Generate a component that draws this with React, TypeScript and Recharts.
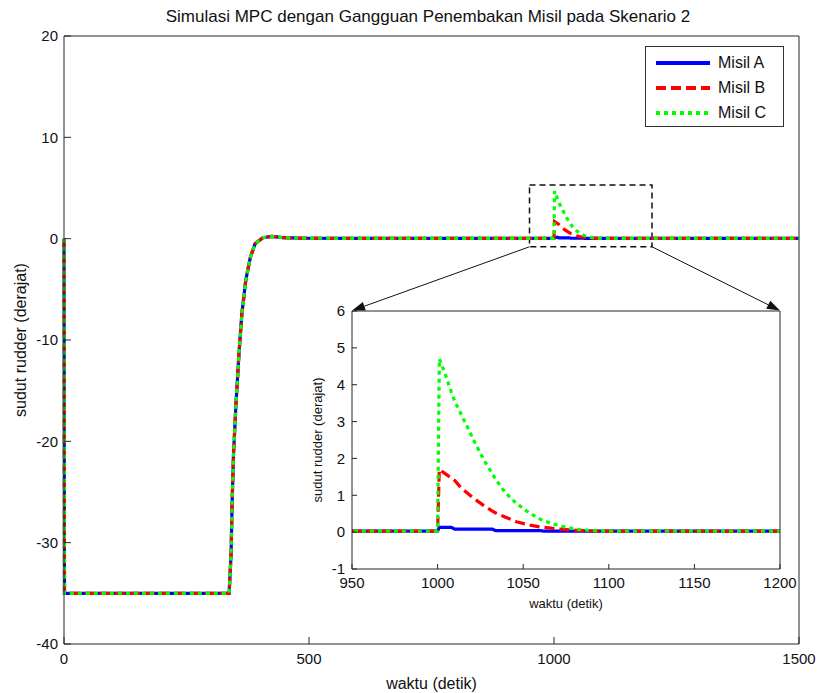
import React from 'react';
import { LineChart, Line, XAxis, YAxis, ReferenceArea, ReferenceLine, Legend } from 'recharts';

// time (detik) shared by all three series
const rise = [0, 1, 100, 200, 300, 337, 341, 343, 346, 351, 357, 363, 371, 380, 390, 406, 424, 447, 480, 600, 800, 999];
const riseVal = [0, -35, -35, -35, -35, -35, -31.1, -26.2, -21.2, -16.3, -11.4, -7.4, -4.1, -1.9, -0.5, 0.1, 0.23, 0.1, 0.05, 0.03, 0.03, 0.03];
const hit = [1000, 1001, 1004, 1008, 1010, 1014, 1021, 1027, 1032, 1034, 1039, 1046, 1054, 1060, 1062, 1071, 1081, 1090, 1100, 1110, 1200, 1300, 1400, 1500];
const hitA = [0.03, 0.13, 0.13, 0.13, 0.08, 0.08, 0.08, 0.08, 0.08, 0.04, 0.04, 0.04, 0.04, 0.04, 0.03, 0.03, 0.03, 0.03, 0.03, 0.03, 0.03, 0.03, 0.03, 0.03];
const hitB = [0.03, 1.7, 1.6, 1.47, 1.4, 1.19, 0.92, 0.72, 0.57, 0.52, 0.42, 0.28, 0.19, 0.14, 0.13, 0.08, 0.05, 0.03, 0.03, 0.03, 0.03, 0.03, 0.03, 0.03];
const hitC = [0.03, 4.7, 4.35, 3.8, 3.55, 3.18, 2.5, 1.96, 1.58, 1.43, 1.1, 0.78, 0.51, 0.35, 0.31, 0.17, 0.08, 0.04, 0.03, 0.03, 0.03, 0.03, 0.03, 0.03];

const waktu = [...rise, ...hit];
const misilA = [...riseVal, ...hitA];
const misilB = [...riseVal, ...hitB];
const misilC = [...riseVal, ...hitC];

const xTicks = [0, 500, 1000, 1500];
const yTicks = [-40, -30, -20, -10, 0, 10, 20];
const xTicksZoom = [950, 1000, 1050, 1100, 1150, 1200];
const yTicksZoom = [-1, 0, 1, 2, 3, 4, 5, 6];

const names = ['Misil A', 'Misil B', 'Misil C'];
const colors = ['#0000ff', '#ff0000', '#00ff00'];
const dashes = [undefined, '10 5', '4 4'];
const keys = ['a', 'b', 'c'];

const data = waktu.map((t, i) => ({ t, a: misilA[i], b: misilB[i], c: misilC[i] }));

const font = '"Liberation Sans", Arial, sans-serif';
const ink = '#262626';

const XTitle = (text: string, dy: number, size: number) => (p: any) => {
  const vb = p.viewBox;
  return (
    <text x={vb.x + vb.width / 2} y={vb.y + dy} textAnchor="middle" dominantBaseline="central" fontSize={size} fontFamily={font} fill="#111">
      {text}
    </text>
  );
};

const YTitle = (text: string, dx: number, size: number) => (p: any) => {
  const vb = p.viewBox;
  const x = vb.x + dx;
  const y = vb.y + vb.height / 2;
  return (
    <text x={x} y={y} transform={`rotate(-90 ${x} ${y})`} textAnchor="middle" dominantBaseline="central" fontSize={size} fontFamily={font} fill="#111">
      {text}
    </text>
  );
};

const Arrow = (p: any) => {
  const { x1, y1, x2, y2 } = p;
  const a = Math.atan2(y2 - y1, x2 - x1);
  const len = 13;
  const w = 4.5;
  const bx = x2 - len * Math.cos(a);
  const by = y2 - len * Math.sin(a);
  const pts = `${x2},${y2} ${bx + w * Math.sin(a)},${by - w * Math.cos(a)} ${bx - w * Math.sin(a)},${by + w * Math.cos(a)}`;
  return (
    <g>
      <line x1={x1} y1={y1} x2={bx} y2={by} stroke="#111" strokeWidth={1} />
      <polygon points={pts} fill="#111" />
    </g>
  );
};

const LegendBox = () => (
  <div style={{ width: 139, height: 81, border: '1px solid #333', background: '#fff', boxSizing: 'border-box', position: 'relative', fontFamily: font }}>
    {names.map((n, i) => (
      <div key={n} style={{ position: 'absolute', left: 10, top: 7 + i * 25, height: 18, display: 'flex', alignItems: 'center' }}>
        <svg width={54} height={6}>
          <line x1={0} y1={3} x2={54} y2={3} stroke={colors[i]} strokeWidth={4} strokeDasharray={dashes[i]} />
        </svg>
        <span style={{ marginLeft: 8, fontSize: 16, color: '#111' }}>{n}</span>
      </div>
    ))}
  </div>
);

const series = (w: number) =>
  keys.map((k, i) => (
    <Line
      key={k}
      xAxisId="b"
      yAxisId="l"
      dataKey={k}
      type="linear"
      stroke={colors[i]}
      strokeWidth={w}
      strokeDasharray={dashes[i]}
      dot={false}
      isAnimationActive={false}
    />
  ));

export default function App() {
  const tickStyle = { fill: '#111', fontSize: 15, fontFamily: font };
  return (
    <div style={{ position: 'absolute', left: 0, top: 0, width: 818, height: 693, background: '#fff' }}>
      <div style={{ position: 'absolute', left: 78, top: 7, width: 700, textAlign: 'center', fontSize: 17, fontFamily: font, color: '#111' }}>
        Simulasi MPC dengan Gangguan Penembakan Misil pada Skenario 2
      </div>
      <LineChart width={818} height={693} data={data} margin={{ top: 35, right: 18, bottom: 0, left: 0 }}>
        <XAxis xAxisId="b" dataKey="t" type="number" domain={[0, 1500]} ticks={xTicks} height={49} tickSize={-7} tickMargin={16} stroke={ink} tick={tickStyle} label={XTitle('waktu (detik)', 39, 16)} />
        <XAxis xAxisId="t" orientation="top" dataKey="t" type="number" domain={[0, 1500]} ticks={xTicks} height={1} tickSize={-7} tick={false} stroke={ink} />
        <YAxis yAxisId="l" type="number" domain={[-40, 20]} ticks={yTicks} width={64} tickSize={-7} tickMargin={13} stroke={ink} tick={tickStyle} label={YTitle('sudut rudder (derajat)', 20, 16)} />
        <YAxis yAxisId="r" orientation="right" type="number" domain={[-40, 20]} ticks={yTicks} width={1} tickSize={-7} tick={false} stroke={ink} />
        {series(3.2)}
        <ReferenceArea xAxisId="b" yAxisId="l" x1={950} x2={1200} y1={-0.8} y2={5.3} fill="none" stroke="#111" strokeWidth={1.5} strokeDasharray="6 4" ifOverflow="visible" />
        <ReferenceLine xAxisId="b" yAxisId="l" segment={[{ x: 950, y: -0.8 }, { x: 588, y: -7.1 }]} shape={Arrow} ifOverflow="visible" />
        <ReferenceLine xAxisId="b" yAxisId="l" segment={[{ x: 1200, y: -0.8 }, { x: 1461, y: -7.1 }]} shape={Arrow} ifOverflow="visible" />
        <Legend layout="vertical" align="center" verticalAlign="middle" content={LegendBox} wrapperStyle={{ position: 'absolute', left: 645, top: 46, width: 139, height: 81 }} />
      </LineChart>
      <div style={{ position: 'absolute', left: 300, top: 300 }}>
        <LineChart width={515} height={320} data={data} margin={{ top: 10, right: 34, bottom: 0, left: 0 }}>
          <XAxis xAxisId="b" dataKey="t" type="number" domain={[950, 1200]} allowDataOverflow ticks={xTicksZoom} height={51} tickSize={-5} tickMargin={13} stroke={ink} tick={tickStyle} label={XTitle('waktu (detik)', 34, 13)} />
          <XAxis xAxisId="t" orientation="top" dataKey="t" type="number" domain={[950, 1200]} allowDataOverflow ticks={xTicksZoom} height={1} tickSize={-5} tick={false} stroke={ink} />
          <YAxis yAxisId="l" type="number" domain={[-1, 6]} allowDataOverflow ticks={yTicksZoom} width={52} tickSize={-5} tickMargin={12} stroke={ink} tick={tickStyle} label={YTitle('sudut rudder (derajat)', 17, 13)} />
          <YAxis yAxisId="r" orientation="right" type="number" domain={[-1, 6]} allowDataOverflow ticks={yTicksZoom} width={1} tickSize={-5} tick={false} stroke={ink} />
          {series(3.2)}
        </LineChart>
      </div>
    </div>
  );
}
